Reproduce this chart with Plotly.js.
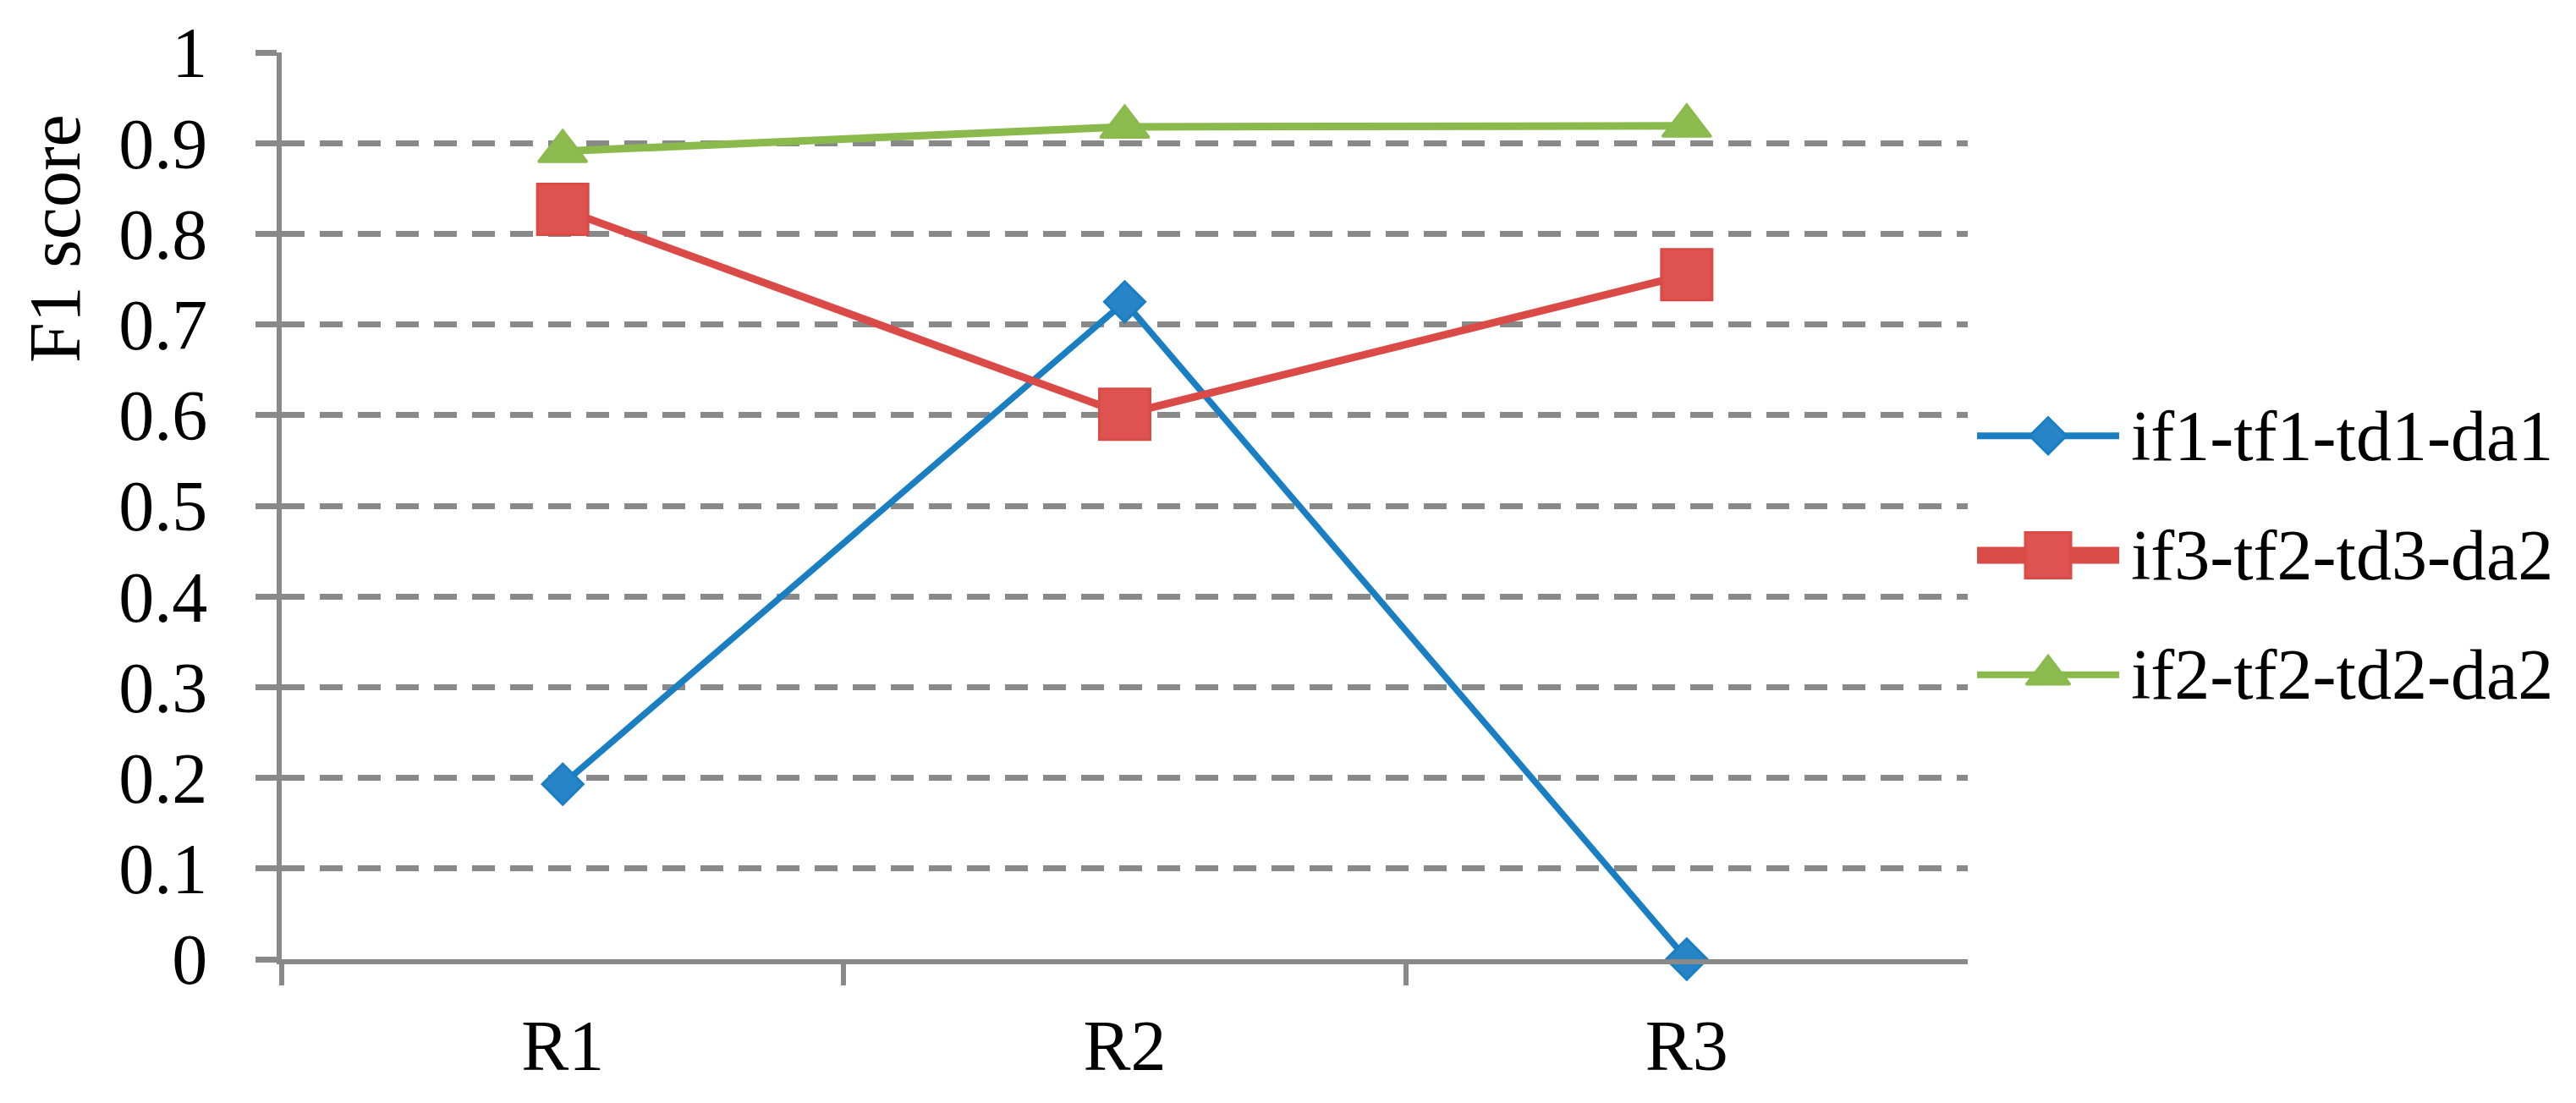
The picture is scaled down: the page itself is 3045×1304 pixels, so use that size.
<!DOCTYPE html>
<html>
<head>
<meta charset="utf-8">
<script src="https://cdn.plot.ly/plotly-3.0.1.min.js"></script>
<style>
  html, body { margin: 0; padding: 0; background: #ffffff; }
  #myDiv { width: 3045px; height: 1304px; }
</style>
</head>
<body>
<div id="myDiv"></div>
<script>
// categories on the x axis
var rounds = ['R1', 'R2', 'R3'];

// one name per series, same order as below
var seriesNames = ['if1-tf1-td1-da1', 'if3-tf2-td3-da2', 'if2-tf2-td2-da2'];

// F1 score values
var f1Blue = [0.193, 0.725, 0.0];
var f1Red = [0.827, 0.601, 0.755];
var f1Green = [0.891, 0.918, 0.919];

var yTicks = [0, 0.1, 0.2, 0.3, 0.4, 0.5, 0.6, 0.7, 0.8, 0.9, 1];
var yTickText = ['0', '0.1', '0.2', '0.3', '0.4', '0.5', '0.6', '0.7', '0.8', '0.9', '1'];

var W = 3045, H = 1304;
var GRAY = '#898989';
var FONT = '"Liberation Serif", "Times New Roman", serif';

function px(x) { return x / W; }
function py(y) { return 1 - y / H; }

// look of each series: line colour, marker, line width in plot and in legend
var styles = [
  { color: '#1A7EC2', fill: '#2784C6', symbol: 'diamond', size: 37, width: 7.5, legendWidth: 8 },
  { color: '#DA4B48', fill: '#DE524F', symbol: 'square', size: 60, width: 9, legendWidth: 20 },
  { color: '#8AB94C', fill: '#8CBB4F', symbol: 'triangle-up', size: 50, width: 9, legendWidth: 8 }
];
var values = [f1Blue, f1Red, f1Green];

var data = [];
values.forEach(function(v, i) {
  var s = styles[i];
  data.push({
    x: rounds,
    y: v,
    type: 'scatter',
    mode: 'lines+markers',
    name: seriesNames[i],
    showlegend: false,
    cliponaxis: false,
    line: { color: s.color, width: s.width },
    marker: { symbol: s.symbol, size: s.size, color: s.fill, opacity: 1, line: { color: s.color, width: 3 } }
  });
});

// hand made legend: a short line with the marker in its middle, drawn on a hidden pair of axes
values.forEach(function(v, i) {
  var s = styles[i];
  data.push({
    x: [0, 0.5, 1],
    y: [i, i, i],
    xaxis: 'x2',
    yaxis: 'y2',
    type: 'scatter',
    mode: 'lines+markers',
    showlegend: false,
    hoverinfo: 'skip',
    cliponaxis: false,
    line: { color: s.color, width: s.legendWidth },
    marker: { symbol: s.symbol, size: [0, s.size * 0.9, 0], color: s.fill, opacity: 1, line: { color: s.color, width: [0, 3, 0] } }
  });
});

var annotations = seriesNames.map(function(n, i) {
  return {
    text: n,
    xref: 'x2', yref: 'y2',
    x: 1, y: i,
    xanchor: 'left', yanchor: 'middle',
    xshift: 12,
    showarrow: false,
    font: { family: FONT, size: 84, color: '#000000' }
  };
});

// y title sits high up on the left, like the original
annotations.push({
  text: 'F1 score',
  xref: 'paper', yref: 'paper',
  x: px(65), y: py(282),
  xanchor: 'center', yanchor: 'middle',
  textangle: -90,
  showarrow: false,
  font: { family: FONT, size: 86, color: '#000000' }
});

var layout = {
  width: W,
  height: H,
  paper_bgcolor: '#ffffff',
  plot_bgcolor: '#ffffff',
  margin: { l: 0, r: 0, t: 0, b: 0, pad: 0 },
  showlegend: false,
  font: { family: FONT, color: '#000000' },
  xaxis: {
    type: 'category',
    domain: [px(333), px(2326)],
    range: [-0.5, 2.5],
    automargin: false,
    showgrid: false,
    zeroline: false,
    showline: true,
    linecolor: GRAY,
    linewidth: 6,
    ticks: 'outside',
    tickson: 'boundaries',
    ticklen: 25,
    tickwidth: 6,
    tickcolor: GRAY,
    ticklabelstandoff: 24,
    tickfont: { family: FONT, size: 84, color: '#000000' }
  },
  yaxis: {
    domain: [py(1134), py(62)],
    range: [0, 1],
    automargin: false,
    tickmode: 'array',
    tickvals: yTicks,
    ticktext: yTickText,
    showgrid: true,
    gridcolor: GRAY,
    gridwidth: 7,
    griddash: '27px,18px',
    zeroline: false,
    showline: true,
    linecolor: GRAY,
    linewidth: 6,
    ticks: 'outside',
    ticklen: 25,
    tickwidth: 7,
    tickcolor: GRAY,
    ticklabelstandoff: 40,
    tickfont: { family: FONT, size: 84, color: '#000000' }
  },
  xaxis2: {
    domain: [px(2337), px(2505)],
    range: [0, 1],
    anchor: 'y2',
    visible: false,
    fixedrange: true
  },
  yaxis2: {
    domain: [py(868.5), py(444.5)],
    range: [2.5, -0.5],
    anchor: 'x2',
    visible: false,
    fixedrange: true
  },
  annotations: annotations
};

Plotly.newPlot('myDiv', data, layout, { staticPlot: true });
</script>
</body>
</html>
